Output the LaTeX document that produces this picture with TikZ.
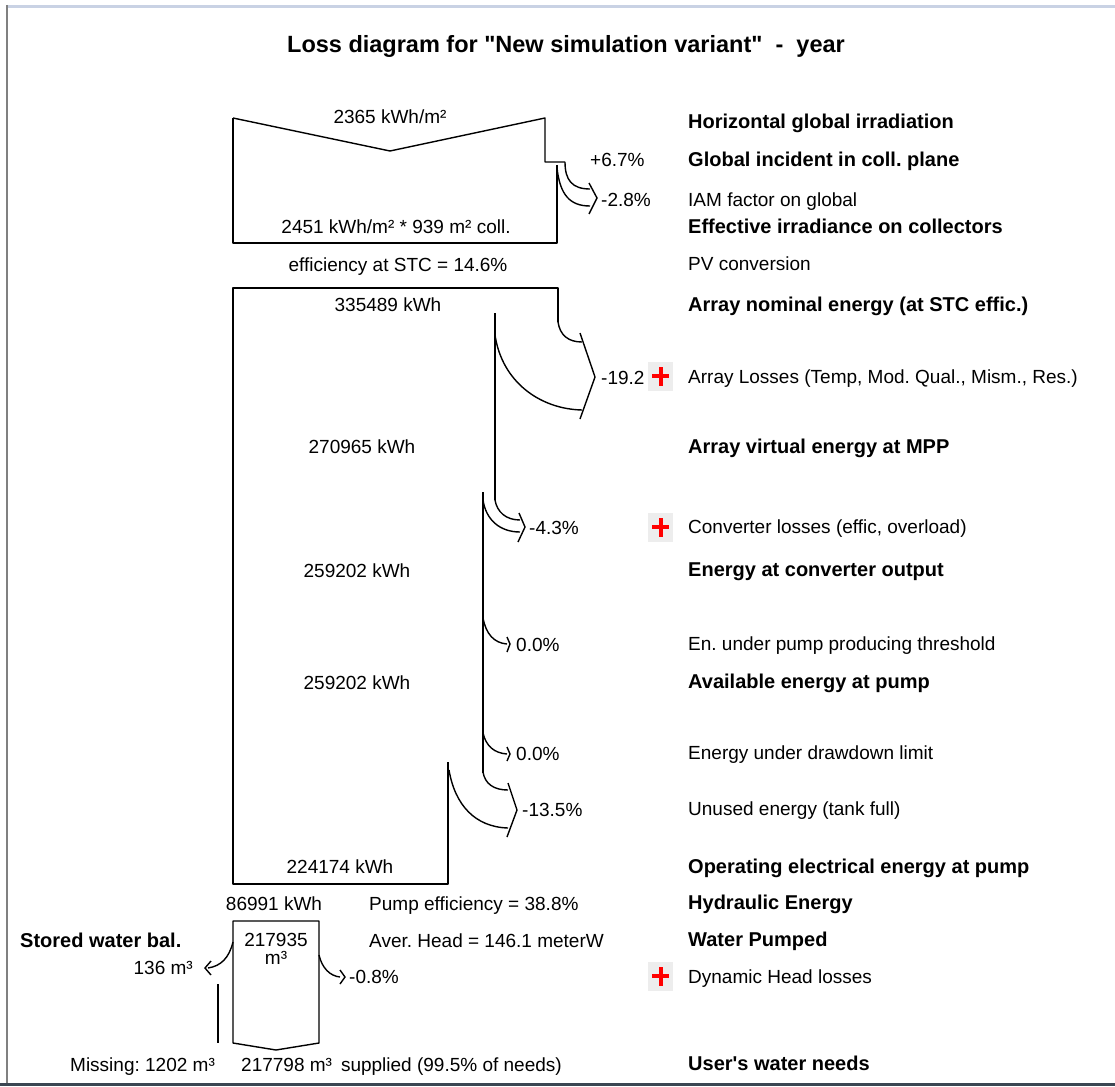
\documentclass[tikz,border=0pt]{standalone}
\usepackage{fontspec}
\setmainfont{Liberation Sans}
\frenchspacing
\definecolor{FrameGray}{HTML}{808080}
\definecolor{FrameTop}{HTML}{C9D2E4}
\definecolor{FrameBottom}{HTML}{3B4652}
\definecolor{PlusRed}{HTML}{FF0000}
\definecolor{PlusBack}{HTML}{EDEDED}
\tikzset{flowline/.style={draw=black,line width=1.4pt,line join=round},losshead/.style={draw=black,line width=1.4pt,line join=miter},rowlabel/.style={anchor=west,inner sep=0pt,text height=13.6pt,text depth=0pt,font=\fontsize{19}{22}\selectfont},rowtitle/.style={rowlabel,font=\fontsize{20}{24}\selectfont\bfseries},valuetext/.style={rowlabel,anchor=center},charttitle/.style={anchor=center,inner sep=0pt,text height=16.8pt,text depth=0pt,font=\fontsize{23.5}{28}\selectfont\bfseries},plusmark/.style={fill=PlusBack,minimum width=25pt,minimum height=29pt,inner sep=0pt,path picture={\draw[PlusRed,line width=4pt] ([xshift=-8.5pt]path picture bounding box.center)--([xshift=8.5pt]path picture bounding box.center);\draw[PlusRed,line width=4pt] ([yshift=-9.5pt]path picture bounding box.center)--([yshift=9.5pt]path picture bounding box.center);}}}

\begin{document}
\begin{tikzpicture}[x=1pt,y=-1pt]
\fill[white] (0,0) rectangle (1115,1086);\useasboundingbox (0,0) rectangle (1115,1086);
\draw[FrameGray,line width=2pt] (7,5)--(7,1083);\draw[FrameTop,line width=3pt] (8,6.5)--(1115,6.5);\draw[FrameBottom,line width=3pt] (0,1084.5)--(1115,1084.5);
\node[charttitle] (title) at (566,44) {Loss diagram for \textquotedbl New simulation variant\textquotedbl\ \ -\ \ year};
% irradiation box
\draw[flowline] (233,118)--(390,151)--(545,118)--(545,162)--(565,162);\draw[flowline] (557,165)--(557,243)--(233,243)--(233,118);
\draw[flowline] (565,162)..controls (565,180) and (572,189)..(590,189);\draw[flowline] (557,168)..controls (560,195) and (570,206)..(590,206);
\draw[losshead] (589,183)--(597,198)--(589,214);
\node[valuetext] (ghor) at (390,117) {2365 kWh/m²};\node[valuetext] (geff) at (396,227) {2451 kWh/m² * 939 m² coll.};\node[valuetext] (stc) at (398,265) {efficiency at STC = 14.6\%};
\node[rowlabel] (gainpct) at (590,160) {+6.7\%};\node[rowlabel] (iampct) at (601,200) {-2.8\%};
% energy box
\draw[flowline] (558,322)--(558,288)--(233,288)--(233,884)--(448,884)--(448,762);
\draw[flowline] (495,313)--(495,500);\draw[flowline] (483,492)--(483,773);
\draw[flowline] (558,322)..controls (560,335) and (568,342)..(582,342);\draw[flowline] (495,335)..controls (502,382) and (540,409)..(582,410);
\draw[losshead] (580,333)--(595,377)--(580,419);
\draw[flowline] (495,500)..controls (497,512) and (506,520)..(520,520);\draw[flowline] (483,500)..controls (486,520) and (500,532)..(520,532);
\draw[losshead] (519,513)--(525,527)--(518,542);
\draw[flowline] (483,618)..controls (486,634) and (494,643)..(507,644);\draw[losshead] (507,637)--(510,644)--(507,652);
\draw[flowline] (483,733)..controls (486,746) and (494,753)..(507,754);\draw[losshead] (507,747)--(510,754)--(507,761);
\draw[flowline] (483,772)..controls (485,784) and (494,790)..(508,790);\draw[flowline] (449,770)..controls (455,805) and (475,827)..(508,828);
\draw[losshead] (508,783)--(517,810)--(507,837);
\node[valuetext] (enom) at (388,305) {335489 kWh};\node[valuetext] (empp) at (362,447) {270965 kWh};\node[valuetext] (econv) at (357,571) {259202 kWh};\node[valuetext] (eavail) at (357,683) {259202 kWh};\node[valuetext] (eoper) at (340,867) {224174 kWh};
\node[rowlabel] (arrpct) at (601,378) {-19.2};\node[rowlabel] (convpct) at (529,528) {-4.3\%};\node[rowlabel] (threshpct) at (516,645) {0.0\%};\node[rowlabel] (drawpct) at (516,754) {0.0\%};\node[rowlabel] (unusedpct) at (522,810) {-13.5\%};
\node[plusmark] (plusarr) at (660.5,376) {};\node[plusmark] (plusconv) at (660.5,527) {};\node[plusmark] (plushead) at (660.5,976) {};
% water box
\draw[flowline] (233,921)--(319,921)--(319,1043)--(276,1050)--(233,1043)--cycle;
\draw[flowline] (233,942)..controls (229,958) and (221,966)..(208,968);\draw[losshead] (211,961)--(205,968)--(211,975);
\draw[flowline] (319,955)..controls (322,968) and (330,976)..(340,977);\draw[losshead] (340,970)--(345,977)--(340,984);
\draw[flowline] (218,984)--(218,1043);
\node[valuetext] (ehyd) at (274,904) {86991 kWh};\node[rowlabel] (pumpeff) at (369,904) {Pump efficiency = 38.8\%};
\node[rowtitle] (stored) at (20,941) {Stored water bal.};\node[valuetext] (wpump) at (276,940) {217935};\node[valuetext] (wunit) at (276,958) {m³};
\node[rowlabel] (avhead) at (369,941) {Aver. Head = 146.1 meterW};\node[rowlabel,anchor=east] (wstore) at (193,968) {136 m³};\node[rowlabel] (headpct) at (349,977) {-0.8\%};
\node[rowlabel] (missing) at (70,1065) {Missing: 1202 m³};\node[rowlabel] (supplied) at (241,1065) {217798 m³\hspace{9pt}supplied (99.5\% of needs)};
% row labels
\node[rowtitle] (hgi) at (688,122) {Horizontal global irradiation};\node[rowtitle] (gicp) at (688,160) {Global incident in coll. plane};
\node[rowlabel] (iam) at (688,200) {IAM factor on global};\node[rowtitle] (effirr) at (688,227) {Effective irradiance on collectors};
\node[rowlabel] (pvconv) at (688,264) {PV conversion};\node[rowtitle] (arrnom) at (688,305) {Array nominal energy (at STC effic.)};
\node[rowlabel] (arrloss) at (688,377) {Array Losses (Temp, Mod. Qual., Mism., Res.)};\node[rowtitle] (arrmpp) at (688,447) {Array virtual energy at MPP};
\node[rowlabel] (convloss) at (688,527) {Converter losses (effic, overload)};\node[rowtitle] (convout) at (688,570) {Energy at converter output};
\node[rowlabel] (thresh) at (688,644) {En. under pump producing threshold};\node[rowtitle] (availpump) at (688,682) {Available energy at pump};
\node[rowlabel] (drawdown) at (688,753) {Energy under drawdown limit};\node[rowlabel] (unused) at (688,809) {Unused energy (tank full)};
\node[rowtitle] (operating) at (688,867) {Operating electrical energy at pump};\node[rowtitle] (hydraulic) at (688,903) {Hydraulic Energy};
\node[rowtitle] (pumped) at (688,940) {Water Pumped};\node[rowlabel] (headloss) at (688,977) {Dynamic Head losses};
\node[rowtitle] (needs) at (688,1064) {User\textquotesingle s water needs};
\end{tikzpicture}
\end{document}
